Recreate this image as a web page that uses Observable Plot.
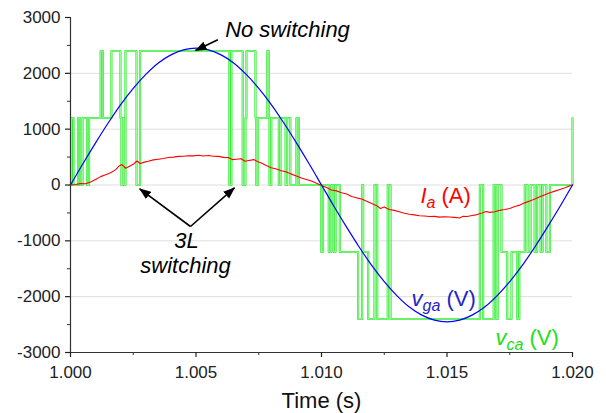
<!DOCTYPE html>
<html><head><meta charset="utf-8">
<script src="https://cdn.jsdelivr.net/npm/d3@7"></script>
<script src="https://cdn.jsdelivr.net/npm/@observablehq/plot@0.6"></script>
<style>
html,body{margin:0;padding:0;background:#fff;}
#chart{width:606px;height:413px;}
</style></head><body><div id="chart"></div>
<script>
// ---- axis ticks ----
const xTicks = [1.000, 1.005, 1.010, 1.015, 1.020];
const xMinorTicks = [1.0025, 1.0075, 1.0125, 1.0175];
const yTicks = [-3000, -2000, -1000, 0, 1000, 2000, 3000];
const yMinorTicks = [-2500, -1500, -500, 500, 1500, 2500];
const gridValues = [-2000, -1000, 0, 1000, 2000];

// ---- v_ga (V): grid voltage, read every 0.5 ms ----
const vgaTimeMs = [0,0.5,1,1.5,2,2.5,3,3.5,4,4.5,5,5.5,6,6.5,7,7.5,8,8.5,9,9.5,10,
  10.5,11,11.5,12,12.5,13,13.5,14,14.5,15,15.5,16,16.5,17,17.5,18,18.5,19,19.5,20];
const vgaValue = [0,385,755,1110,1440,1730,1980,2185,2330,2420,2450,2420,2330,2185,1980,1730,1440,1110,755,385,0,
  -385,-755,-1110,-1440,-1730,-1980,-2185,-2330,-2420,-2450,-2420,-2330,-2185,-1980,-1730,-1440,-1110,-755,-385,0];

// ---- I_a (A): phase current ----
const iaTimeMs = [0,0.2,0.4,0.6,0.8,1.0,1.2,1.4,1.6,1.8,1.95,2.05,2.2,2.35,2.5,2.65,2.78,2.95,3.1,3.3,3.5,3.7,3.9,
  4.1,4.3,4.5,4.7,4.9,5.1,5.3,5.5,5.7,5.9,6.1,6.3,6.45,6.6,6.8,6.95,7.1,7.3,7.45,7.6,7.8,8.0,8.2,8.4,8.6,8.8,
  9.0,9.2,9.4,9.6,9.8,10.0,10.2,10.4,10.6,10.8,11.0,11.2,11.4,11.6,11.8,12.0,12.2,12.35,12.5,12.7,12.9,13.1,
  13.3,13.5,13.7,13.9,14.1,14.3,14.5,14.7,14.9,15.1,15.3,15.5,15.65,15.8,16.0,16.2,16.4,16.55,16.7,16.9,17.1,
  17.3,17.5,17.7,17.9,18.1,18.3,18.5,18.7,18.9,19.1,19.3,19.5,19.7,19.9,20.0];
const iaValue = [0,10,25,22,55,100,150,185,220,275,345,365,300,335,370,430,385,410,425,450,462,475,492,
  500,512,515,525,522,532,520,528,515,512,495,490,455,462,470,425,440,455,420,395,350,310,285,255,235,195,
  160,125,100,70,30,-10,-45,-90,-105,-140,-160,-205,-230,-250,-290,-330,-370,-420,-395,-440,-455,-480,
  -505,-525,-535,-550,-555,-565,-562,-575,-568,-572,-580,-590,-560,-565,-545,-530,-500,-475,-490,-480,-455,
  -440,-420,-385,-360,-320,-285,-250,-210,-175,-140,-110,-80,-50,-15,0];

// ---- v_ca (V): converter voltage, switching instants and levels (step-after) ----
const vcaTimeMs = [0,0.04,0.12,0.30,0.38,0.48,0.66,0.74,1.20,1.29,1.63,1.99,2.03,2.09,2.13,2.19,2.63,2.77,
  6.33,6.41,6.86,6.97,7.01,7.37,7.40,7.46,7.84,7.90,7.93,8.00,8.30,8.37,8.57,8.63,8.76,9.00,9.10,
  9.99,10.06,10.29,10.39,10.49,10.56,10.73,11.46,11.62,11.66,11.86,12.11,12.22,12.64,12.75,
  16.31,16.44,16.86,16.96,17.02,17.17,17.40,17.57,17.80,17.88,18.10,18.21,18.33,18.49,18.59,18.73,18.81,18.96,19.10,20.0];
const vcaLevel = [0,1200,0,1200,0,1200,0,1200,2400,1200,2400,1200,0,1200,0,2400,0,2400,
  0,2400,0,1200,2400,1200,0,1200,2400,1200,0,1200,0,1200,0,1200,0,1200,0,
  -1200,0,-1200,0,-1200,0,-1200,-2400,0,-1200,-2400,0,-2400,0,-2400,
  0,-2400,0,-2400,0,-1200,-2400,-1200,-2400,-1200,0,-1200,0,-1200,0,-1200,0,-1200,0,1200];

// ---- annotations ----
const noteText = ["No switching", "3L", "switching"];
const noteTime = [1.008645, 1.004622, 1.004582];
const noteValue = [2774, -1005, -1452];

const seriesMain = ["I", "v", "v"];
const seriesSub = ["a", "ga", "ca"];
const seriesUnit = [" (A)", " (V)", " (V)"];
const seriesTime = [1.01394, 1.01359, 1.01693];
const seriesValue = [-199, -2043, -2742];
const seriesColor = ["#ff0000", "#2424c8", "#22dd22"];

const arrowFromT = [1.00587, 1.00478, 1.00478];
const arrowFromV = [2600, -743, -743];
const arrowToT = [1.00498, 1.00276, 1.00653];
const arrowToV = [2409, -68, -50];

// ---- build tables ----
const toT = ms => 1 + ms / 1000;
const vga = vgaTimeMs.map((m, i) => ({t: toT(m), v: vgaValue[i]}));
const ia = iaTimeMs.map((m, i) => ({t: toT(m), v: iaValue[i]}));
const vca = vcaTimeMs.map((m, i) => ({t: toT(m), v: vcaLevel[i]}));
const notes = noteText.map((s, i) => ({s, t: noteTime[i], v: noteValue[i]}));
const series = seriesMain.map((m, i) => ({s: m + seriesSub[i] + seriesUnit[i], t: seriesTime[i], v: seriesValue[i], c: seriesColor[i], i}));
const arrows = arrowFromT.map((t, i) => ({x1: t, y1: arrowFromV[i], x2: arrowToT[i], y2: arrowToV[i]}));

function triMarker(color) {
  const m = document.createElementNS("http://www.w3.org/2000/svg", "marker");
  m.setAttribute("viewBox", "-11 -5 12 10");
  m.setAttribute("markerWidth", 12);
  m.setAttribute("markerHeight", 10);
  m.setAttribute("markerUnits", "userSpaceOnUse");
  m.setAttribute("orient", "auto");
  m.setAttribute("refX", 0);
  m.setAttribute("refY", 0);
  const p = document.createElementNS("http://www.w3.org/2000/svg", "path");
  p.setAttribute("d", "M-11,-4.5L1,0L-11,4.5Z");
  p.setAttribute("fill", color);
  p.setAttribute("stroke", "none");
  m.appendChild(p);
  return m;
}

const font = "'Liberation Sans', Arial, Helvetica, sans-serif";

const plot = Plot.plot({
  width: 606, height: 413,
  marginLeft: 70, marginRight: 34, marginTop: 17, marginBottom: 61,
  x: {domain: [1.0, 1.02]},
  y: {domain: [-3000, 3000]},
  style: {fontFamily: font, background: "#fff", overflow: "visible"},
  marks: [
    Plot.ruleY(gridValues, {stroke: "#dedede", strokeWidth: 1}),
    // v_ca: drawn as a double-edged green trace
    Plot.line(vca, {x: "t", y: "v", curve: "step-after", stroke: "#30ec30", strokeWidth: 2.2}),
    Plot.line(vca, {x: "t", y: "v", curve: "step-after", stroke: "#d2fbd2", strokeWidth: 0.7}),
    Plot.line(ia, {x: "t", y: "v", stroke: "#ff0000", strokeWidth: 1.1}),
    Plot.line(vga, {x: "t", y: "v", curve: "catmull-rom", stroke: "#0000ff", strokeWidth: 1.2}),
    // axes
    Plot.ruleX([1.0], {stroke: "#333", strokeWidth: 1.2}),
    Plot.ruleY([-3000], {stroke: "#333", strokeWidth: 1.2}),
    Plot.axisY(yTicks, {tickSize: 5, tickPadding: 5, fontSize: 17, tickFormat: d => String(d), label: null, color: "#222", strokeWidth: 1.2}),
    Plot.axisY(yMinorTicks, {tickSize: 3, tickFormat: () => "", label: null, color: "#333"}),
    Plot.axisX(xTicks, {tickSize: 5, tickPadding: 8, fontSize: 17, tickFormat: d3.format(".3f"), label: null, color: "#222", strokeWidth: 1.2}),
    Plot.axisX(xMinorTicks, {tickSize: 3, tickFormat: () => "", label: null, color: "#333"}),
    Plot.text(["Time (s)"], {text: d => d, frameAnchor: "bottom", dy: 48.5, lineAnchor: "middle", fontSize: 22, fill: "#111"}),
    // annotations
    Plot.link(arrows, {x1: "x1", y1: "y1", x2: "x2", y2: "y2", stroke: "#000", strokeWidth: 1.6, markerEnd: triMarker}),
    Plot.text(notes, {x: "t", y: "v", text: "s", textAnchor: "middle", fontSize: 22, fontStyle: "italic", fill: "#000", lineAnchor: "middle"}),
    Plot.text(series, {x: "t", y: "v", text: "s", textAnchor: "start", fontSize: 22, fill: "c", lineAnchor: "middle"})
  ]
});

// rich labels: italic symbol with subscript, upright unit
const richMap = new Map(series.map(d => [d.s, d.i]));
d3.select(plot).selectAll("text").each(function () {
  const key = this.textContent;
  if (!richMap.has(key)) return;
  const i = richMap.get(key);
  const sel = d3.select(this);
  sel.text(null).style("white-space", "pre");
  sel.append("tspan").attr("font-style", "italic").text(seriesMain[i]);
  sel.append("tspan").attr("font-style", "italic").attr("font-size", 16).attr("dy", 5).text(seriesSub[i]);
  sel.append("tspan").attr("dy", -5).text(seriesUnit[i]);
});
d3.select(plot).selectAll("text").filter(function () { return noteText.includes(this.textContent); }).attr("font-style", "italic");

document.getElementById("chart").appendChild(plot);
</script>
</body></html>
